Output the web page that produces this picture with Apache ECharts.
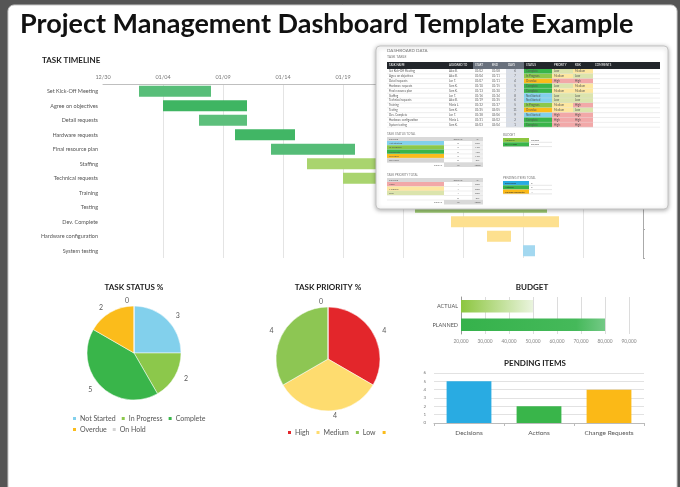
<!DOCTYPE html>
<html>
<head>
<meta charset="utf-8">
<script src="https://cdn.jsdelivr.net/npm/echarts@6/dist/echarts.min.js"></script>
<style>
html, body { margin: 0; padding: 0; background: #555; }
#main { width: 680px; height: 487px; }
</style>
</head>
<body>
<div id="main"></div>
<script>
// --- task timeline ---
var tasks = ['Set Kick-Off Meeting', 'Agree on objectives', 'Detail requests', 'Hardware requests',
    'Final resource plan', 'Staffing', 'Technical requests', 'Training', 'Testing',
    'Dev. Complete', 'Hardware configuration', 'System testing'];
var startDates = ['01/02', '01/04', '01/07', '01/10', '01/13', '01/16', '01/19', '01/22', '01/25', '01/28', '01/31', '02/03'];
var durations = [6, 7, 4, 5, 7, 8, 6, 5, 11, 9, 2, 1];
var timelineDays = 45;

// --- pies ---
var statusNames = ['Not Started', 'In Progress', 'Complete', 'Overdue', 'On Hold'];
var statusCounts = [3, 2, 5, 2, 0];
var priorityNames = ['High', 'Medium', 'Low', ' '];
var priorityCounts = [4, 4, 4, 0];

// --- budget / pending ---
var budgetNames = ['ACTUAL', 'PLANNED'];
var budgetValues = [50000, 80000];
var pendingNames = ['Decisions', 'Actions', 'Change Requests'];
var pendingValues = [5, 2, 4];

// --- dashboard data table (the pasted sheet) ---
var taskOwners = ['Alex B.', 'Alex B.', 'Jen T.', 'Sam K.', 'Sam K.', 'Jen T.', 'Alex B.', 'Maria L.', 'Sam K.', 'Jen T.', 'Maria L.', 'Sam K.'];
var taskStatus = ['Complete', 'In Progress', 'Overdue', 'Complete', 'Complete', 'Not Started', 'Not Started',
    'In Progress', 'Overdue', 'Not Started', 'Complete', 'Complete'];
var taskPriority = ['Low', 'Medium', 'High', 'Low', 'Medium', 'Low', 'Low', 'Medium', 'Medium', 'High', 'High', 'High'];
var taskRisk = ['Medium', 'Low', 'High', 'Medium', 'Medium', 'Low', 'Low', 'High', 'Low', 'High', 'High', 'High'];

// colours
var ganttColors = ['#58be79', '#3fb562', '#5cbf7b', '#41b665', '#55bc77', '#a9d46e', '#a9d46e', '#a9d46e',
    '#9cc872', '#fde08f', '#fde08f', '#a3d8f0'];
var statusColors = { 'Not Started': '#82d0ec', 'In Progress': '#8cc84b', 'Complete': '#39b54a', 'Overdue': '#fbbc1b', 'On Hold': '#d4d4d4' };
var priorityColors = { 'High': '#e3262b', 'Medium': '#fedc6f', 'Low': '#8dc653', ' ': '#fbbc1b' };
var cellColors = { 'High': '#f2a8a8', 'Medium': '#fde7a0', 'Low': '#dbe4ad', ' ': '#ffffff' };
var pendingColors = ['#29abe2', '#39b54a', '#fbb917'];

function pad(n) { return n < 10 ? '0' + n : '' + n; }
function toDay(s) {
    var p = s.split('/'), m = +p[0], d = +p[1];
    var t = new Date(m === 12 ? 2019 : 2020, m - 1, d);
    return Math.round((t - new Date(2019, 11, 30)) / 864e5);
}
function toLabel(n) {
    var t = new Date(2019, 11, 30 + n);
    return pad(t.getMonth() + 1) + '/' + pad(t.getDate());
}
var offsets = startDates.map(toDay);
var endDates = offsets.map(function (o, i) { return toLabel(o + durations[i]); });

// small helpers for the pasted data sheet
var Z = 50;
function R(x, y, w, h, fill, stroke) {
    return { type: 'rect', z: Z, shape: { x: x, y: y, width: w, height: h },
        style: { fill: fill, stroke: stroke || null, lineWidth: 0.5 } };
}
function T(text, x, y, size, fill, align) {
    return { type: 'text', z: Z + 1, x: x, y: y,
        style: { text: text, fontSize: size, fill: fill || '#555', fontFamily: 'Lato',
            textAlign: align || 'left', textVerticalAlign: 'middle' } };
}
function L(x1, y1, x2, y2, stroke) {
    return { type: 'line', z: Z, shape: { x1: x1, y1: y1, x2: x2, y2: y2 },
        style: { stroke: stroke || '#dcdcdc', lineWidth: 0.5 } };
}

function buildSheet() {
    var g = [];
    g.push({ type: 'rect', z: Z, shape: { x: 376, y: 46, width: 292, height: 163, r: 4 },
        style: { fill: '#fff', stroke: '#c4c4c4', lineWidth: 1, shadowBlur: 4, shadowColor: 'rgba(0,0,0,0.3)', shadowOffsetY: 1 } });
    g.push(T('DASHBOARD DATA', 387, 50.5, 4.5, '#777'));
    g.push(T('TASK TABLE', 387, 56.5, 3.5, '#777'));

    var cols = [387, 447, 473, 490, 506, 524, 552, 573, 593, 660];
    var heads = ['TASK NAME', 'ASSIGNED TO', 'START', 'END', 'DAYS', 'STATUS', 'PRIORITY', 'RISK', 'COMMENTS'];
    g.push(R(387, 62, 273, 7, '#22262b'));
    g.push(R(473, 62, 51, 7, '#68707c'));
    heads.forEach(function (h, i) { g.push(T(h, cols[i] + 2, 65.5, 2.8, '#fff')); });

    var rh = 4.85, y0 = 69;
    g.push(R(506, y0, 18, rh * tasks.length, '#d9dee7'));
    tasks.forEach(function (t, i) {
        var y = y0 + i * rh, cy = y + rh / 2;
        g.push(R(524, y, 28, rh, statusColors[taskStatus[i]]));
        g.push(R(552, y, 21, rh, cellColors[taskPriority[i]]));
        g.push(R(573, y, 20, rh, cellColors[taskRisk[i]]));
        g.push(L(387, y + rh, 660, y + rh));
        g.push(T(t, 389, cy, 2.8));
        g.push(T(taskOwners[i], 449, cy, 2.8));
        g.push(T(startDates[i], 475, cy, 2.8));
        g.push(T(endDates[i], 492, cy, 2.8));
        g.push(T(String(durations[i]), 515, cy, 2.8, '#555', 'center'));
        g.push(T(taskStatus[i], 526, cy, 2.8));
        g.push(T(taskPriority[i], 554, cy, 2.8));
        g.push(T(taskRisk[i], 575, cy, 2.8));
    });

    function totalTable(title, names, counts, colors, y, rh) {
        var sum = counts.reduce(function (a, b) { return a + b; }, 0);
        g.push(T(title, 387, y - 3, 3, '#777'));
        g.push(R(387, y, 96, 4, '#d9d9d9'));
        g.push(T('STATUS', 389, y + 2, 2.6));
        g.push(T('COUNT', 458, y + 2, 2.6, '#555', 'center'));
        g.push(T('%', 477.5, y + 2, 2.6, '#555', 'center'));
        var yy = y + 4;
        g.push(R(472, yy, 11, rh * names.length, '#efefef'));
        names.forEach(function (n, i) {
            var ry = yy + i * rh;
            g.push(R(387, ry, 57, rh, colors[n]));
            g.push(L(387, ry + rh, 483, ry + rh));
            g.push(T(n, 389, ry + rh / 2, 2.6));
            g.push(T(String(counts[i]), 458, ry + rh / 2, 2.6, '#555', 'center'));
            g.push(T(Math.round(counts[i] / sum * 100) + '%', 477.5, ry + rh / 2, 2.6, '#555', 'center'));
        });
        var ty = yy + rh * names.length;
        g.push(R(444, ty, 39, 4.5, '#d9d9d9'));
        g.push(T('TOTAL', 442, ty + 2.2, 2.6, '#555', 'right'));
        g.push(T(String(sum), 458, ty + 2.2, 2.6, '#555', 'center'));
        g.push(T('100%', 477.5, ty + 2.2, 2.6, '#555', 'center'));
    }
    totalTable('TASK STATUS TOTAL', statusNames, statusCounts, statusColors, 137, 4.3);
    totalTable('TASK PRIORITY TOTAL', priorityNames, priorityCounts, cellColors, 178, 4.5);

    function smallTable(title, names, values, colors, y) {
        g.push(T(title, 503, y - 3, 3, '#777'));
        names.forEach(function (n, i) {
            var ry = y + i * 4.3;
            g.push(R(503, ry, 26, 4.3, colors[i]));
            g.push(L(503, ry + 4.3, 552, ry + 4.3, '#cfcfcf'));
            g.push(T(n, 505, ry + 2.15, 2.6, '#333'));
            g.push(T(String(values[i]), 531, ry + 2.15, 2.6));
        });
    }
    smallTable('BUDGET', budgetNames, budgetValues.map(function (v) { return v.toLocaleString('en-US'); }),
        ['#8dc63f', '#3ab54a'], 138);
    smallTable('PENDING ITEMS TOTAL', pendingNames, pendingValues, pendingColors, 181);
    return g;
}

var myChart = echarts.init(document.getElementById('main'));

function subTitle(text, left, top, align) {
    return { text: text, left: left, top: top, textAlign: align || 'left', padding: 0,
        textStyle: { fontSize: 8, fontWeight: 'bold', color: '#222', fontFamily: 'Lato' } };
}

var option = {
    backgroundColor: '#555',
    animation: false,
    textStyle: { fontFamily: 'Lato' },
    title: [
        { text: 'Project Management Dashboard Template Example', left: 20, top: 11, padding: 0,
            textStyle: { fontSize: 27, fontWeight: 'bold', color: '#111', fontFamily: 'Lato' } },
        subTitle('TASK TIMELINE', 42, 56),
        subTitle('TASK STATUS %', 134, 283, 'center'),
        subTitle('TASK PRIORITY %', 328, 283, 'center'),
        subTitle('BUDGET', 532, 283, 'center'),
        subTitle('PENDING ITEMS', 535, 359, 'center')
    ],
    legend: [
        { data: statusNames, left: 66, top: 410, width: 150, itemWidth: 5, itemHeight: 5, itemGap: 4,
            icon: 'rect', textStyle: { fontSize: 7, color: '#555', padding: [0, 0, 0, -2] } },
        { data: priorityNames, left: 281, top: 424, itemWidth: 5, itemHeight: 5, itemGap: 5,
            icon: 'rect', textStyle: { fontSize: 7, color: '#555', padding: [0, 0, 0, -2] } }
    ],
    grid: [
        { left: 103, right: 37, top: 84, bottom: 229 },
        { left: 461, right: 51, top: 297, bottom: 153 },
        { left: 434, right: 36, top: 373, bottom: 64 }
    ],
    xAxis: [
        { type: 'value', gridIndex: 0, position: 'top', min: 0, max: timelineDays, interval: 5,
            axisLine: { show: true, lineStyle: { color: '#bfbfbf' } }, axisTick: { show: false },
            axisLabel: { fontSize: 5.5, color: '#777', margin: 4,
                formatter: function (v) { return toLabel(v); } },
            splitLine: { show: true, showMinLine: false, lineStyle: { color: '#e4e4e4' } } },
        { type: 'value', gridIndex: 1, min: 20000, max: 90000, interval: 10000,
            axisLine: { show: false }, axisTick: { show: false },
            axisLabel: { fontSize: 4.8, color: '#888', margin: 5,
                formatter: function (v) { return v.toLocaleString('en-US'); } },
            splitLine: { show: true, lineStyle: { color: '#dcdcdc' } } },
        { type: 'category', gridIndex: 2, data: pendingNames,
            axisLine: { lineStyle: { color: '#bbb' } }, axisTick: { show: true, length: 3, lineStyle: { color: '#bbb' } },
            axisLabel: { fontSize: 6.5, color: '#555', margin: 6 } }
    ],
    yAxis: [
        { type: 'category', gridIndex: 0, data: tasks, inverse: true,
            axisLine: { show: false }, axisTick: { show: false },
            axisLabel: { fontSize: 5.5, color: '#555', margin: 5 } },
        { type: 'category', gridIndex: 0, data: tasks, inverse: true, position: 'right',
            axisLine: { show: true, lineStyle: { color: '#aaa' } },
            axisTick: { show: true, length: 2, lineStyle: { color: '#aaa' } },
            axisLabel: { show: false } },
        { type: 'category', gridIndex: 1, data: budgetNames, inverse: true,
            axisLine: { show: true, lineStyle: { color: '#999' } }, axisTick: { show: false },
            axisLabel: { fontSize: 5.5, color: '#555', margin: 3 } },
        { type: 'value', gridIndex: 2, min: 0, max: 6, interval: 1,
            axisLine: { show: false }, axisTick: { show: false },
            axisLabel: { fontSize: 4.5, color: '#777', margin: 8 },
            splitLine: { lineStyle: { color: '#e2e2e2' } } }
    ],
    series: [
        { type: 'bar', stack: 'gantt', xAxisIndex: 0, yAxisIndex: 0, data: offsets,
            barCategoryGap: '24%', itemStyle: { color: 'transparent' }, silent: true },
        { type: 'bar', stack: 'gantt', xAxisIndex: 0, yAxisIndex: 0,
            data: durations.map(function (d, i) { return { value: d, itemStyle: { color: ganttColors[i] } }; }) },
        { type: 'bar', xAxisIndex: 1, yAxisIndex: 2, barCategoryGap: '32%',
            data: [
                { value: budgetValues[0], itemStyle: { color: new echarts.graphic.LinearGradient(0, 0, 1, 0,
                    [{ offset: 0, color: '#8cc63f' }, { offset: 1, color: '#eaf4de' }]) } },
                { value: budgetValues[1], itemStyle: { color: new echarts.graphic.LinearGradient(0, 0, 1, 0,
                    [{ offset: 0, color: '#35b24b' }, { offset: 0.8, color: '#45b95a' }, { offset: 1, color: '#74c986' }]) } }
            ] },
        { type: 'bar', xAxisIndex: 2, yAxisIndex: 3, barCategoryGap: '36%',
            data: pendingValues.map(function (v, i) { return { value: v, itemStyle: { color: pendingColors[i] } }; }) },
        { type: 'pie', center: [134, 353], radius: 47, startAngle: 90, avoidLabelOverlap: false,
            itemStyle: { borderColor: '#fff', borderWidth: 0.5 },
            label: { show: true, position: 'outside', formatter: '{c}', fontSize: 7, color: '#595959' },
            labelLine: { show: false, length: 5, length2: 0 },
            data: statusNames.map(function (n, i) { return { name: n, value: statusCounts[i], itemStyle: { color: statusColors[n] } }; }) },
        { type: 'pie', center: [328, 359], radius: 52, startAngle: 90, avoidLabelOverlap: false,
            itemStyle: { borderColor: '#fff', borderWidth: 0.5 },
            label: { show: true, position: 'outside', formatter: '{c}', fontSize: 7, color: '#595959' },
            labelLine: { show: false, length: 5, length2: 0 },
            data: priorityNames.map(function (n, i) { return { name: n, value: priorityCounts[i], itemStyle: { color: priorityColors[n] } }; }) }
    ],
    graphic: [
        { type: 'rect', z: 0, shape: { x: 8, y: 5, width: 669, height: 500, r: 6 },
            style: { fill: '#fff', stroke: '#c8c8c8', lineWidth: 1 } },
        { type: 'group', children: buildSheet() }
    ]
};

myChart.setOption(option);
window.addEventListener('resize', function () {
    myChart.resize();
});
</script>
</body>
</html>
